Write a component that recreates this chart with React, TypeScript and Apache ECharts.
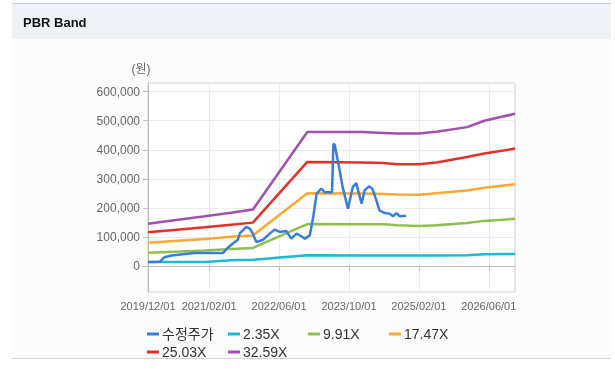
import React, { useEffect, useRef } from "react";
import * as echarts from "echarts";

// x-axis categories (monthly) and tick labels
const months: string[] = [];
for (let y = 2019, m = 12; y < 2026 || (y === 2026 && m <= 12); ) {
  months.push(`${y}/${String(m).padStart(2, "0")}/01`);
  m++;
  if (m > 12) { m = 1; y++; }
}
const tickLabels = ["2019/12/01", "2021/02/01", "2022/06/01", "2023/10/01", "2025/02/01", "2026/06/01"];

// PBR band lines
const bandDates = [
  "2019-12-01", "2020-06-01", "2021-01-01", "2021-07-01", "2021-12-01", "2022-12-15",
  "2024-01-01", "2024-06-01", "2024-09-01", "2025-02-01", "2025-06-01", "2026-01-01",
  "2026-05-01", "2026-12-01",
];
const band235 = [13000, 13000, 13000, 19000, 21000, 37000, 36000, 36000, 36000, 36000, 36000, 37000, 40000, 41000];
const band991 = [45000, 49000, 53000, 58000, 62000, 144000, 143000, 143000, 140000, 137000, 140000, 148000, 155000, 162000];
const band1747 = [80000, 86000, 93000, 100000, 105000, 250000, 249000, 248000, 246000, 245000, 250000, 260000, 269000, 281000];
const band2503 = [116000, 124000, 133000, 142000, 149000, 358000, 356000, 354000, 350000, 350000, 356000, 375000, 387000, 404000];
const band3259 = [145000, 157000, 171000, 183000, 194000, 461000, 461000, 458000, 456000, 456000, 462000, 478000, 500000, 524000];

// adjusted price (수정주가)
const priceDates = [
  "2019-12-01", "2020-02-20", "2020-03-25", "2020-05-12", "2020-09-03", "2020-10-20",
  "2021-05-06", "2021-06-01", "2021-07-12", "2021-08-18", "2021-09-01", "2021-09-22",
  "2021-10-16", "2021-11-09", "2021-12-01", "2021-12-25", "2022-02-10", "2022-03-28",
  "2022-05-01", "2022-06-06", "2022-07-21", "2022-08-25", "2022-10-01", "2022-11-03",
  "2022-11-28", "2023-01-01", "2023-01-25", "2023-02-18", "2023-03-22", "2023-04-15",
  "2023-06-05", "2023-06-15", "2023-06-25", "2023-07-15", "2023-07-28", "2023-08-18",
  "2023-09-24", "2023-10-28", "2023-11-21", "2023-12-28", "2024-01-18", "2024-02-18",
  "2024-03-12", "2024-04-09", "2024-05-01", "2024-06-06", "2024-07-10", "2024-08-03",
  "2024-08-27", "2024-09-18", "2024-11-01",
];
const priceValues = [
  13000, 14000, 30000, 36000, 42000, 44000,
  44000, 59000, 76000, 90000, 113000, 122000,
  134000, 128000, 111000, 82000, 90000, 111000,
  125000, 117000, 120000, 94000, 111000, 102000,
  94000, 105000, 168000, 249000, 266000, 254000,
  254000, 421000, 415000, 364000, 329000, 272000,
  197000, 272000, 285000, 214000, 260000, 274000,
  266000, 226000, 191000, 182000, 180000, 171000,
  182000, 171000, 173000,
];

const seriesNames = ["수정주가", "2.35X", "9.91X", "17.47X", "25.03X", "32.59X"];
const seriesColors = ["#3a7dd8", "#1cbad0", "#8fc04f", "#fba834", "#e2302a", "#9e52aa"];

const FONT = "'Liberation Sans', 'Noto Sans CJK KR', sans-serif";

export default function App() {
  const ref = useRef<HTMLDivElement>(null);
  useEffect(() => {
    if (!ref.current) return;
    const chart = echarts.init(ref.current, undefined, { renderer: "svg" });
    const tickIdx = new Set(tickLabels.map((t) => months.indexOf(t)));
    const showTick = (i: number) => tickIdx.has(i);
    const zip = (d: string[], v: number[]) => d.map((x, i) => [x, v[i]]);
    const bands = [band235, band991, band1747, band2503, band3259];

    const mkSeries = (name: string, data: any[], color: string, z: number) => ({
      name,
      type: "line",
      xAxisIndex: 1,
      yAxisIndex: 0,
      data,
      showSymbol: false,
      symbol: "none",
      z,
      itemStyle: { color },
      lineStyle: { color, width: 2.5 },
    });

    const series: any[] = bands.map((b, i) =>
      mkSeries(seriesNames[i + 1], zip(bandDates, b), seriesColors[i + 1], 2)
    );
    series.push(mkSeries(seriesNames[0], zip(priceDates, priceValues), seriesColors[0], 3));

    const legendPos = [
      [147, 327], [228, 327], [308, 327], [389, 327],
      [147, 345], [228, 345],
    ];
    const legends = seriesNames.map((n, i) => ({
      data: [n],
      left: legendPos[i][0],
      top: legendPos[i][1],
      padding: 0,
      icon: "rect",
      itemWidth: 12,
      itemHeight: 3,
      selectedMode: false,
      textStyle: { fontSize: 14, color: "#333", fontFamily: FONT, padding: [0, 0, 0, -2] },
    }));

    chart.setOption({
      animation: false,
      textStyle: { fontFamily: FONT },
      graphic: [
        { type: "rect", z: -10, silent: true, shape: { x: 12, y: 3, width: 599, height: 1 }, style: { fill: "#d2d2d2" } },
        { type: "rect", z: -10, silent: true, shape: { x: 12, y: 4, width: 599, height: 35 }, style: { fill: "#eef1f6" } },
        { type: "rect", z: -10, silent: true, shape: { x: 12, y: 39, width: 599, height: 319 }, style: { fill: "#fcfcfc" } },
        { type: "rect", z: -10, silent: true, shape: { x: 12, y: 358, width: 599, height: 1 }, style: { fill: "#d4d4d4" } },
        {
          type: "text", z: 10, left: 23, top: 16,
          style: { text: "PBR Band", fill: "#111", font: `bold 13px ${FONT}` },
        },
      ],
      grid: {
        left: 148, right: 100, top: 83, bottom: 89,
        show: true, backgroundColor: "#ffffff", borderColor: "#cfcfcf", borderWidth: 1,
      },
      legend: legends,
      xAxis: [
        {
          type: "category",
          data: months,
          boundaryGap: false,
          axisLine: { lineStyle: { color: "#bdbdbd" } },
          axisTick: { show: true, interval: (i: number) => showTick(i), length: 5, lineStyle: { color: "#bdbdbd" } },
          axisLabel: { interval: (i: number) => showTick(i), color: "#666", fontSize: 11, margin: 8 },
          splitLine: { show: true, interval: (i: number) => showTick(i), lineStyle: { color: "#ebebeb" } },
        },
        {
          type: "time",
          min: "2019-12-01",
          max: "2026-12-01",
          show: false,
        },
      ],
      yAxis: {
        type: "value",
        min: -90000,
        max: 630000,
        splitNumber: 7,
        name: "(원)",
        nameLocation: "end",
        nameGap: 8,
        nameTextStyle: { color: "#666", fontSize: 12, padding: [0, 14, 0, 0] },
        axisLine: { show: true, lineStyle: { color: "#bdbdbd" } },
        axisTick: { show: true, length: 5, lineStyle: { color: "#bdbdbd" } },
        axisLabel: {
          showMinLabel: false,
          showMaxLabel: false,
          color: "#666",
          fontSize: 12,
          margin: 8,
          formatter: (v: number) => v.toLocaleString("en-US"),
        },
        splitLine: { show: true, lineStyle: { color: "#ebebeb" } },
      },
      series,
    });
    return () => chart.dispose();
  }, []);
  return <div ref={ref} style={{ position: "fixed", left: 0, top: 0, width: 615, height: 381 }} />;
}
